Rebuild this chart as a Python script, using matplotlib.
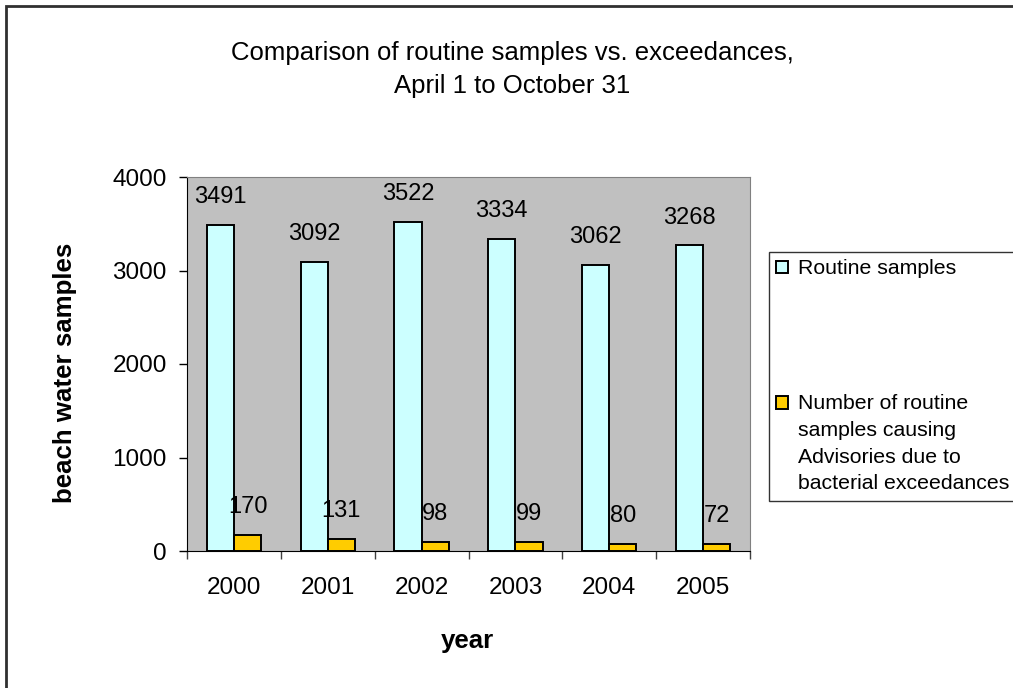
import numpy as np
import matplotlib.pyplot as plt
from matplotlib.patches import Rectangle
from matplotlib.legend_handler import HandlerPatch

plt.rcParams['font.family'] = ['Liberation Sans', 'DejaVu Sans']

years = ['2000', '2001', '2002', '2003', '2004', '2005']
routine = [3491, 3092, 3522, 3334, 3062, 3268]
advisories = [170, 131, 98, 99, 80, 72]
labels = ['Routine samples',
          'Number of routine\nsamples causing\nAdvisories due to\nbacterial exceedances']

W, H = 1013, 688
fig = plt.figure(figsize=(W / 100, H / 100), dpi=100)
ax = fig.add_axes([187 / W, 1 - 551 / H, 563 / W, 374 / H])
ax.set_facecolor('#C0C0C0')

x = np.arange(len(years))
w = 0.29
b1 = ax.bar(x - w / 2, routine, w, color='#CCFFFF', edgecolor='black', linewidth=1.4)
b2 = ax.bar(x + w / 2, advisories, w, color='#FFCC00', edgecolor='black', linewidth=1.4)

for bars, vals in [(b1, routine), (b2, advisories)]:
    for r, v in zip(bars, vals):
        ax.annotate(str(v), (r.get_x() + r.get_width() / 2, v), xytext=(0, 20),
                    textcoords='offset points', ha='center', va='center', fontsize=17)

ax.set_xlim(-0.5, 5.5)
ax.set_ylim(0, 4000)
ax.set_yticks([0, 1000, 2000, 3000, 4000])
ax.tick_params(axis='y', labelsize=17.5, length=6, width=1, pad=8.5)
ax.set_xticks(np.arange(-0.5, 6, 1))
ax.set_xticklabels([])
ax.set_xticks(x, minor=True)
ax.set_xticklabels(years, minor=True)
ax.tick_params(axis='x', which='major', length=6, width=1, color='#404040')
ax.tick_params(axis='x', which='minor', length=0, labelsize=17.5, pad=18.5)

for s in ['top', 'right']:
    ax.spines[s].set_color('#808080')

fig.text(512 / W, 1 - 60 / H, 'Comparison of routine samples vs. exceedances,',
         ha='center', va='baseline', fontsize=18.5)
fig.text(512 / W, 1 - 93 / H, 'April 1 to October 31', ha='center', va='baseline',
         fontsize=18.5)
fig.text(65 / W, 1 - 373 / H, 'beach water samples', rotation=90, ha='center', va='center',
         fontsize=18.6, fontweight='bold')
fig.text(467 / W, 1 - 648 / H, 'year', ha='center', va='baseline', fontsize=18.6,
         fontweight='bold')

leg_fs = 15.3
line_sp = 1.51
pitch_pt = 27.5 * 0.72  # distance between label lines, in points


# legend square sits next to the first line of a multi-line label
def square_at_first_line(nlines):
    def f(legend, orig_handle, xdescent, ydescent, width, height, fontsize):
        shift = (nlines - 1) * 0.5 * pitch_pt
        return Rectangle((-xdescent, -ydescent + shift), width, height)
    return HandlerPatch(patch_func=f)


h1, h2 = b1.patches[0], b2.patches[0]
leg = fig.legend(handles=[h1, h2], labels=labels, loc='upper left',
                 bbox_to_anchor=(769 / W, 1 - 252 / H),
                 fontsize=leg_fs, frameon=True, fancybox=False, edgecolor='black',
                 handlelength=0.55, handleheight=0.55, handletextpad=0.45,
                 labelspacing=5.45, borderpad=0.35, borderaxespad=0,
                 handler_map={h1: square_at_first_line(1),
                              h2: square_at_first_line(labels[1].count('\n') + 1)})
leg.get_frame().set_linewidth(1)
for t in leg.get_texts():
    t.set_linespacing(line_sp)

fig.patches.append(Rectangle((6 / W, -0.1), 1.2, 1.1 - 6 / H, transform=fig.transFigure,
                             fill=False, edgecolor='#303030', linewidth=2))

fig.savefig('out.png', dpi=100)
